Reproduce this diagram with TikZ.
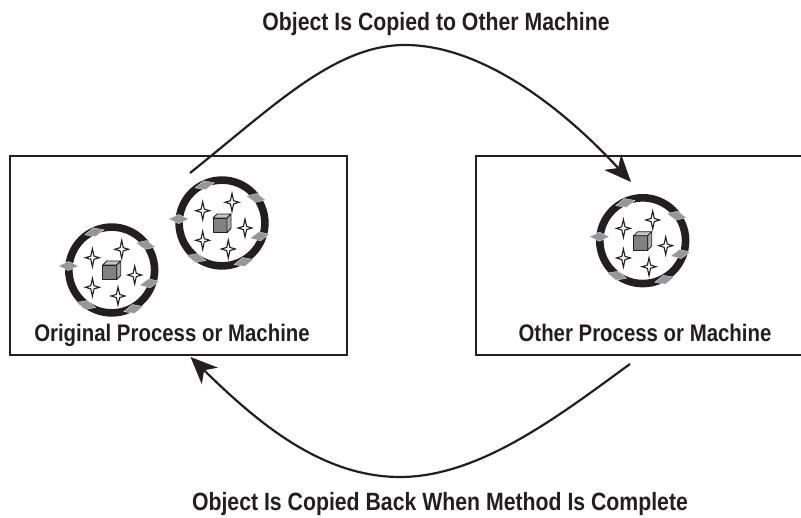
\documentclass[tikz,border=0pt]{standalone}
\usepackage{fontspec}
\setmainfont[FakeStretch=0.85]{Liberation Sans Bold}
\usetikzlibrary{arrows.meta}
\definecolor{ink}{HTML}{231F20}
\definecolor{cubegray}{HTML}{808183}
\definecolor{diagray}{HTML}{96979A}
\tikzset{
  x=1pt,y=-1pt,
  boxnode/.style={draw=ink,line width=2pt,rectangle,inner sep=0pt,anchor=north west},
  lab/.style={font=\fontsize{24}{26}\selectfont,text=ink,inner sep=0pt,anchor=base},
  biglab/.style={lab,font=\fontsize{25}{27}\selectfont},
  flow/.style={draw=ink,line width=2.2pt,-{Stealth[length=27pt,width=23pt,inset=8pt]}},
  dia/.style={fill=diagray,draw=white,line width=0.25pt},
  starshape/.style={fill=white,draw=ink,line width=1.1pt,line join=miter},
  cubeface/.style={fill=cubegray,draw=ink,line width=0.8pt,line join=round},
  ring/.pic={
    \draw[ink,line width=7.6pt] (0,0) circle[radius=42.9];
    \foreach \x/\y/\r in {-17.3/-37.7/15,34/-25/-12,-43.3/-4/0,37.7/13.3/12,-25.7/35/-15,21.7/39/15}{
      \draw[dia,shift={(\x,\y)},rotate=\r] (-10,0)--(0,-4.6)--(10,0)--(0,4.6)--cycle;
    }
    \foreach \x/\y in {-19.3/-12.3,10/-20.7,23/5,-19.3/17.3,6.3/26}{
      \draw[starshape,shift={(\x,\y)}] (0,-9)--(1.6,-1.6)--(7,0)--(1.6,1.6)--(0,9)--(-1.6,1.6)--(-7,0)--(-1.6,-1.6)--cycle;
    }
    \draw[cubeface] (-9,-5)--(5,-5)--(5,9.5)--(-9,9.5)--cycle;
    \draw[cubeface,fill=white!55!cubegray] (-9,-5)--(-5,-9)--(9,-9)--(5,-5)--cycle;
    \draw[cubeface,fill=white!30!cubegray] (5,-5)--(9,-9)--(9,5.5)--(5,9.5)--cycle;
  }
}
\begin{document}
\begin{tikzpicture}
\useasboundingbox (0,0) rectangle (801,518);
\node[boxnode,minimum width=337pt,minimum height=199pt] (left) at (8.5,155.5) {};
\node[boxnode,minimum width=340pt,minimum height=199pt] (right) at (474.5,155.5) {};
\path (111.7,270) pic {ring};
\path (222,223) pic {ring};
\path (642.7,240.7) pic {ring};
\node[biglab] (t1) at (436,31) {Object Is Copied to Other Machine};
\node[biglab] (t2) at (440,511) {Object Is Copied Back When Method Is Complete};
\node[lab] (t3) at (172,342) {Original Process or Machine};
\node[lab] (t4) at (645,342) {Other Process or Machine};
\coordinate (a1) at (190,173);
\coordinate (a2) at (631,182);
\coordinate (b1) at (630,364);
\coordinate (b2) at (190.5,357);
\path[flow] (a1) .. controls (275,105) and (335,45) .. (405,45) .. controls (480,45) and (560,105) .. (a2);
\path[flow] (b1) .. controls (560,415) and (480,477) .. (400,477) .. controls (320,477) and (255,420) .. (b2);
\end{tikzpicture}
\end{document}
